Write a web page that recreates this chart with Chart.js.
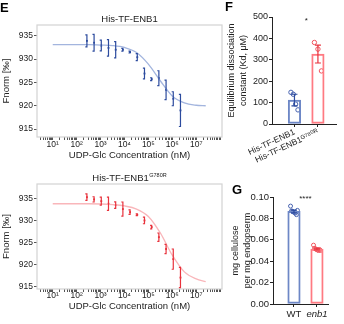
<!DOCTYPE html>
<html>
<head>
<meta charset="utf-8">
<script src="https://cdn.jsdelivr.net/npm/chart.js@4"></script>
<style>
  body { margin: 0; background: #fff; }
  #wrap { position: relative; width: 344px; height: 324px; overflow: hidden; font-family: 'Liberation Sans', Arial, sans-serif; }
  .box { position: absolute; }
  .panel { position: absolute; font-weight: bold; font-size: 13px; line-height: 15px; color: #000; }
</style>
</head>
<body>
<div id="wrap">
  <div class="box" style="left:0;top:0;width:228px;height:165px"><canvas id="mstWt"></canvas></div>
  <div class="box" style="left:0;top:160px;width:228px;height:164px"><canvas id="mstMut"></canvas></div>
  <div class="box" style="left:226px;top:0;width:118px;height:165px"><canvas id="kdChart"></canvas></div>
  <div class="box" style="left:226px;top:175px;width:118px;height:149px"><canvas id="celChart"></canvas></div>
  <div class="panel" style="left:0;top:0">E</div>
  <div class="panel" style="left:225px;top:-1px">F</div>
  <div class="panel" style="left:232px;top:182px">G</div>
</div>
<script>
const FONT = "'Liberation Sans', 'DejaVu Sans', Arial, sans-serif";
Chart.defaults.font.family = FONT;
Chart.defaults.color = '#222';
Chart.defaults.animation = false;

// ---- E: MST binding curves ----
const concNM = [269, 537, 1074, 2148, 4297, 8594, 17188, 34375, 68750, 137500, 275000, 550000, 1100000, 2200000];
const fitConcNM = [10, 32, 100, 320, 1000, 3200, 10000, 32000, 100000, 320000, 1000000, 3200000, 10000000, 25000000];

const wtFnorm = [933.9, 933.5, 932.9, 932.4, 932.0, 932.0, 931.5, 930.4, 926.9, 925.7, 925.9, 923.4, 921.5, 919.0];
const wtFnormErr = [1.3, 1.8, 1.15, 1.75, 1.75, 0.3, 0.2, 0.75, 1.15, 0.3, 1.6, 2.1, 1.5, 3.45];
const wtFit = [933.1, 933.1, 933.1, 933.1, 933.0, 932.9, 932.5, 931.4, 928.9, 925.3, 922.1, 920.6, 920.1, 920.0];

const mutFnorm = [935.4, 934.9, 934.5, 933.9, 933.6, 932.7, 932.0, 931.4, 930.1, 928.6, 926.3, 923.6, 921.3, 917.1];
const mutFnormErr = [0.75, 0.6, 0.9, 1.5, 0.75, 1.6, 0.5, 0.2, 0.75, 0.4, 0.95, 1.05, 2.3, 2.3];
const mutFit = [933.9, 933.9, 933.9, 933.9, 933.85, 933.7, 933.4, 932.7, 931.0, 927.2, 922.2, 918.4, 916.8, 916.2];

const decadeExps = [1, 2, 3, 4, 5, 6, 7];
const decadeLabels = ['10¹', '10²', '10³', '10⁴', '10⁵', '10⁶', '10⁷'];
const fnormTicks = [915, 920, 925, 930, 935];

// ---- F: Kd ----
const kdGroups = ['His-TF-ENB1', 'His-TF-ENB1ᴳ⁷⁸⁰ᴿ'];
const kdMean = [112, 327];
const kdErr = [27, 42];
const kdReps = [[148, 139, 93, 66], [381, 350, 248]];
const kdTicks = [0, 100, 200, 300, 400, 500];
const kdSig = '*';

// ---- G: cellulose ----
const celGroups = ['WT', 'enb1'];
const celMean = [0.0865, 0.0513];
const celErr = [0.0012, 0.0008];
const celReps = [
  [0.0915, 0.0870, 0.0865, 0.0860, 0.0855, 0.0850, 0.0835, 0.0875],
  [0.0550, 0.0520, 0.0515, 0.0510, 0.0505, 0.0500, 0.0510, 0.0500]
];
const celTicks = [0, 0.02, 0.04, 0.06, 0.08, 0.10];
const celSig = '****';

const blueDark = '#2c4b9e', blueFit = '#a3b5de', blueBar = '#6d87c6', blueDot = '#4863b0';
const redDark = '#e8323c', redFit = '#f9b6ba', redBar = '#ff7a82', redDot = '#f0545d';

// error bars drawn on top of a dataset
const errorBars = {
  id: 'errorBars',
  afterDatasetsDraw(chart, args, opts) {
    if (!opts.errors) return;
    const meta = chart.getDatasetMeta(opts.dataset);
    const ds = chart.data.datasets[opts.dataset];
    const y = chart.scales.y;
    const ctx = chart.ctx;
    ctx.save();
    ctx.lineWidth = opts.width;
    meta.data.forEach((el, i) => {
      const v = ds.data[i].y;
      const top = y.getPixelForValue(v + opts.errors[i]);
      const bot = y.getPixelForValue(v - opts.errors[i]);
      ctx.strokeStyle = Array.isArray(opts.color) ? opts.color[i] : opts.color;
      ctx.beginPath();
      ctx.moveTo(el.x, top); ctx.lineTo(el.x, bot);
      ctx.moveTo(el.x - opts.capL, top); ctx.lineTo(el.x + opts.capR, top);
      ctx.moveTo(el.x - opts.capL, bot); ctx.lineTo(el.x + opts.capR, bot);
      ctx.stroke();
    });
    ctx.restore();
  }
};

// light grey box around the plotting area + title with optional superscript
const mstFrame = {
  id: 'mstFrame',
  beforeDatasetsDraw(chart) {
    const {ctx, chartArea: a} = chart;
    ctx.save();
    ctx.strokeStyle = '#d3d3d3';
    ctx.lineWidth = 1.2;
    ctx.strokeRect(a.left, a.top, a.right - a.left, a.bottom - a.top);
    ctx.restore();
  },
  afterDraw(chart, args, opts) {
    if (!opts.text) return;
    const {ctx, chartArea: a} = chart;
    ctx.save();
    ctx.fillStyle = '#222';
    ctx.textAlign = 'left';
    ctx.textBaseline = 'alphabetic';
    ctx.font = '9.5px ' + FONT;
    const w1 = ctx.measureText(opts.text).width;
    ctx.font = '5.5px ' + FONT;
    const w2 = opts.sup ? ctx.measureText(opts.sup).width + 0.5 : 0;
    const x = (a.left + a.right) / 2 - (w1 + w2) / 2;
    const y = a.top - 3.5;
    ctx.font = '9.5px ' + FONT;
    ctx.fillText(opts.text, x, y);
    if (opts.sup) {
      ctx.font = '5.5px ' + FONT;
      ctx.fillText(opts.sup, x + w1 + 0.5, y - 4);
    }
    ctx.restore();
  }
};

const sigMark = {
  id: 'sigMark',
  afterDraw(chart, args, opts) {
    if (!opts.text) return;
    const {ctx, scales} = chart;
    ctx.save();
    ctx.fillStyle = '#222';
    ctx.font = opts.size + 'px ' + FONT;
    ctx.textAlign = 'center';
    ctx.textBaseline = 'middle';
    ctx.fillText(opts.text, scales.x.getPixelForValue(opts.x), scales.y.getPixelForValue(opts.y) + opts.size * 0.25);
    ctx.restore();
  }
};

function logTicks(scale) {
  const ticks = [];
  for (let e = 0; e <= 8; e++) {
    for (let m = 1; m <= 9; m++) {
      const v = m * Math.pow(10, e);
      if (v >= scale.min && v <= scale.max) ticks.push({ value: v, major: m === 1 });
    }
  }
  scale.ticks = ticks;
}

function decadeLabel(v) {
  const e = Math.round(Math.log10(v));
  const i = decadeExps.indexOf(e);
  return (i >= 0 && Math.abs(v - Math.pow(10, e)) < 1e-6 * v) ? decadeLabels[i] : '';
}

function mstChart(id, cfg) {
  return new Chart(document.getElementById(id), {
    type: 'scatter',
    data: {
      datasets: [{
        data: fitConcNM.map((x, i) => ({ x, y: cfg.fit[i] })),
        showLine: true,
        pointRadius: 0,
        borderColor: cfg.fitColor,
        borderWidth: 1.3,
        cubicInterpolationMode: 'monotone'
      }, {
        data: concNM.map((x, i) => ({ x, y: cfg.values[i] })),
        pointStyle: 'rect',
        pointRadius: 1.3,
        backgroundColor: cfg.color,
        borderColor: cfg.color,
        borderWidth: 0
      }]
    },
    plugins: [mstFrame, errorBars],
    options: {
      responsive: true,
      maintainAspectRatio: false,
      layout: { padding: { top: cfg.top, right: 6, left: 0, bottom: 0 } },
      plugins: {
        legend: { display: false },
        tooltip: { enabled: false },
        mstFrame: { text: 'His-TF-ENB1', sup: cfg.sup },
        errorBars: { dataset: 1, errors: cfg.errors, color: cfg.color, width: 1.2, capL: 1.6, capR: 0.6 }
      },
      scales: {
        x: {
          type: 'logarithmic',
          min: 2.2, max: 1.2e8,
          afterBuildTicks: logTicks,
          ticks: { autoSkip: false, maxRotation: 0, padding: cfg.tickPad, font: { size: 8.5 }, callback: decadeLabel },
          grid: { drawOnChartArea: false, tickLength: 3, color: '#555' },
          border: { display: false },
          title: { display: true, text: 'UDP-Glc Concentration (nM)', font: { size: 9.5 }, padding: { top: 0, bottom: cfg.xTitlePad } },
          afterFit: s => { s.height = cfg.xHeight; }
        },
        y: {
          min: cfg.yMin, max: cfg.yMax,
          afterBuildTicks: s => { s.ticks = fnormTicks.map(v => ({ value: v })); },
          ticks: { padding: 1, font: { size: 8.5 } },
          grid: { drawOnChartArea: false, tickLength: 3, color: '#555' },
          border: { display: false },
          title: { display: true, text: 'Fnorm [‰]', font: { size: 9.5 }, padding: { top: 1, bottom: 0 } },
          afterFit: s => { s.width = 37; }
        }
      }
    }
  });
}

mstChart('mstWt', {
  values: wtFnorm, errors: wtFnormErr, fit: wtFit,
  color: blueDark, fitColor: blueFit, sup: '',
  top: 25, xHeight: 28, xTitlePad: 4, tickPad: 0, yMin: 913.3, yMax: 937.3
});

mstChart('mstMut', {
  values: mutFnorm, errors: mutFnormErr, fit: mutFit,
  color: redDark, fitColor: redFit, sup: 'G780R',
  top: 24, xHeight: 35, xTitlePad: 12, tickPad: -1, yMin: 914.5, yMax: 938.4
});

function jitter(i, n) {
  return n > 1 ? (i / (n - 1) - 0.5) * 0.3 : 0;
}

function barChart(id, cfg) {
  const reps = [];
  const repColors = [];
  cfg.reps.forEach((group, g) => {
    group.forEach((v, i) => {
      reps.push({ x: g + 1 + jitter(i, group.length), y: v });
      repColors.push(cfg.dotColors[g]);
    });
  });
  return new Chart(document.getElementById(id), {
    type: 'bar',
    data: {
      datasets: [{
        type: 'bar',
        data: cfg.mean.map((v, i) => ({ x: i + 1, y: v })),
        backgroundColor: 'rgba(255,255,255,0)',
        borderColor: cfg.barColors,
        borderWidth: 1.3,
        borderSkipped: false,
        barThickness: 12.5
      }, {
        type: 'scatter',
        data: reps,
        pointStyle: 'circle',
        pointRadius: cfg.dotRadius,
        backgroundColor: 'rgba(255,255,255,0)',
        borderColor: repColors,
        borderWidth: 1
      }]
    },
    plugins: [errorBars, sigMark],
    options: {
      responsive: true,
      maintainAspectRatio: false,
      layout: { padding: { top: cfg.top, right: cfg.right, left: 0, bottom: 0 } },
      plugins: {
        legend: { display: false },
        tooltip: { enabled: false },
        errorBars: { dataset: 0, errors: cfg.err, color: cfg.errColors, width: 1.2, capL: 3, capR: 3 },
        sigMark: { text: cfg.sig, x: 1.5, y: cfg.sigY, size: cfg.sigSize }
      },
      scales: {
        x: {
          type: 'linear',
          min: cfg.xMin, max: cfg.xMax,
          offset: false,
          afterBuildTicks: s => { s.ticks = cfg.groups.map((_, i) => ({ value: i + 1 })); },
          ticks: {
            autoSkip: false, minRotation: cfg.rot, maxRotation: cfg.rot, padding: cfg.xPad,
            font: cfg.xFont,
            callback: v => cfg.groups[v - 1]
          },
          grid: { offset: false, drawOnChartArea: false, tickLength: 3, color: '#222' },
          border: { color: '#222', width: 1 },
          afterFit: s => { s.height = cfg.xHeight; }
        },
        y: {
          min: 0, max: cfg.yMax,
          afterBuildTicks: s => { s.ticks = cfg.yTicks.map(v => ({ value: v })); },
          ticks: { padding: 1, font: { size: cfg.yFont }, callback: cfg.yFmt },
          grid: { drawOnChartArea: false, tickLength: 3, color: '#222' },
          border: { color: '#222', width: 1 },
          title: { display: true, text: cfg.yTitle, font: { size: 9, lineHeight: 1.3 }, padding: { top: cfg.yTitlePad, bottom: 0 } },
          afterFit: s => { s.width = cfg.yWidth; }
        }
      }
    }
  });
}

barChart('kdChart', {
  mean: kdMean, err: kdErr, reps: kdReps, groups: kdGroups,
  barColors: [blueBar, redBar], dotColors: [blueDot, redDot], errColors: [blueDark, redDark],
  dotRadius: 2.2,
  sig: kdSig, sigY: 492, sigSize: 8,
  top: 17, right: 8, xMin: 0.043, xMax: 2.77, rot: 25, xPad: 0, xFont: { size: 8.5 }, xHeight: 41,
  yMax: 500, yTicks: kdTicks, yFont: 9, yFmt: v => v,
  yTitle: ['Equilibrium dissociation', 'constant (Kd, μM)'], yTitlePad: 0, yWidth: 46
});

barChart('celChart', {
  mean: celMean, err: celErr, reps: celReps, groups: celGroups,
  barColors: [blueBar, redBar], dotColors: [blueDot, redDot], errColors: [blueDark, redDark],
  dotRadius: 2,
  sig: celSig, sigY: 0.1003, sigSize: 8,
  top: 22, right: 16, xMin: 0.087, xMax: 2.48, rot: 0, xPad: 2,
  xFont: ctx => ({ size: 9.5, style: ctx.index === 1 ? 'italic' : 'normal' }), xHeight: 20,
  yMax: 0.10, yTicks: celTicks, yFont: 9.5, yFmt: v => v.toFixed(2),
  yTitle: ['mg cellulose', 'per mg endopserm'], yTitlePad: 4, yWidth: 47
});
</script>
</body>
</html>
